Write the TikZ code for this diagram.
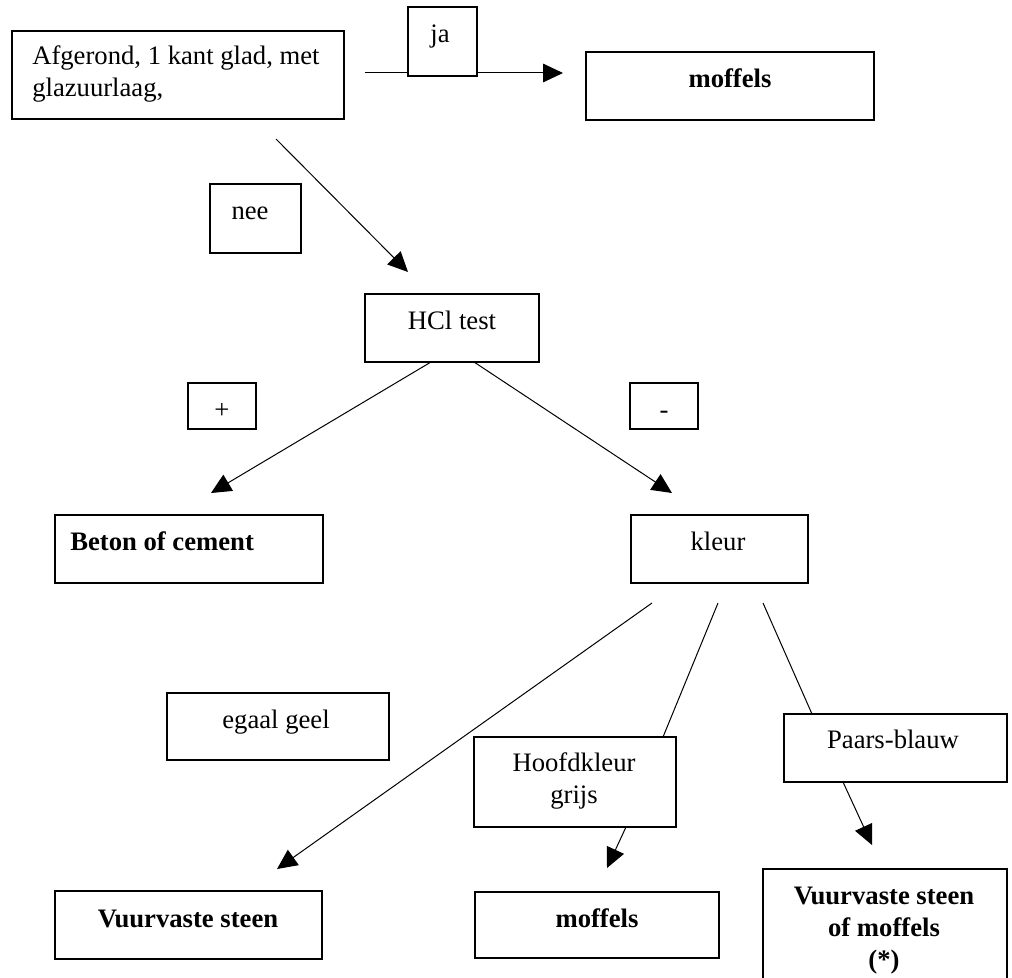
\documentclass[tikz,border=0pt]{standalone}
\usepackage{fontspec}
\setmainfont{Liberation Serif}
\usetikzlibrary{arrows.meta,fit}
\begin{document}
\begin{tikzpicture}[x=0.75pt,y=-0.75pt,
  box/.style={draw, line width=0.9pt, fill=white, inner sep=0pt},
  lbl/.style={inner sep=0pt, font=\fontsize{20}{24}\selectfont},
  res/.style={inner sep=0pt, font=\fontsize{20}{24}\selectfont\bfseries},
  conn/.style={line width=0.75pt},
  arr/.style={conn, -{Triangle[length=15pt,width=14pt]}}
]
\useasboundingbox (0,0) rectangle (1012,977);
\clip (0,0) rectangle (1012,977);
\fill[white] (0,0) rectangle (1012,977);

% connector end points
\coordinate (jaS) at (365,73);  \coordinate (jaE) at (563,73);
\coordinate (neeS) at (276,139); \coordinate (neeE) at (408,272);
\coordinate (plS) at (431,362); \coordinate (plE) at (211,493);
\coordinate (miS) at (474,362); \coordinate (miE) at (672,493);
\coordinate (geS) at (652,603); \coordinate (geE) at (277,869);
\coordinate (grS) at (718,603); \coordinate (grM) at (663,737);
\coordinate (grA) at (626,827); \coordinate (grE) at (607,868);
\coordinate (pbS) at (763,603); \coordinate (pbM) at (812,714);
\coordinate (pbA) at (843,782); \coordinate (pbE) at (872,845);

% connectors
\draw[arr] (jaS) -- (jaE);
\draw[arr] (neeS) -- (neeE);
\draw[arr] (plS) -- (plE);
\draw[arr] (miS) -- (miE);
\draw[arr] (geS) -- (geE);
\draw[conn] (grS) -- (grM);
\draw[arr] (grA) -- (grE);
\draw[conn] (pbS) -- (pbM);
\draw[arr] (pbA) -- (pbE);

% boxes
\node[box, fit={(12,31) (344,119)}] (start) {};
\node[box, fit={(408,7) (477,76)}] (ja) {};
\node[box, fit={(586,52) (874,120)}] (mofA) {};
\node[box, fit={(210,184) (301,253)}] (nee) {};
\node[box, fit={(365,294) (539,362)}] (hcl) {};
\node[box, fit={(188,383) (256,429)}] (plus) {};
\node[box, fit={(630,383) (698,429)}] (minus) {};
\node[box, fit={(55,515) (323,583)}] (beton) {};
\node[box, fit={(631,515) (808,583)}] (kleur) {};
\node[box, fit={(167,693) (389,760)}] (egaal) {};
\node[box, fit={(474,737) (676,827)}] (hoofd) {};
\node[box, fit={(784,714) (1007,782)}] (paars) {};
\node[box, fit={(55,891) (322,959)}] (vuur) {};
\node[box, fit={(475,892) (719,958)}] (mofB) {};
\node[box, fit={(763,869) (1007,995)}] (vm) {};

% texts (for multi-line texts the base anchor is the last line)
\node[lbl, anchor=base west, align=left] (startT) at (32,97) {Afgerond, 1 kant glad, met\\glazuurlaag,};
\node[lbl, anchor=base] (jaT) at (440,43) {ja};
\node[res, anchor=base] (mofAT) at (730,88) {moffels};
\node[lbl, anchor=base] (neeT) at (250,219) {nee};
\node[lbl, anchor=base] (hclT) at (452,329) {HCl test};
\node[lbl, anchor=base] (plusT) at (222,418) {+};
\node[lbl, anchor=base] (minusT) at (664,418) {-};
\node[res, anchor=base west] (betonT) at (70,550) {Beton of cement};
\node[lbl, anchor=base] (kleurT) at (718,550) {kleur};
\node[lbl, anchor=base] (egaalT) at (276,728) {egaal geel};
\node[lbl, anchor=base, align=center] (hoofdT) at (574,803) {Hoofdkleur\\grijs};
\node[lbl, anchor=base] (paarsT) at (893,748) {Paars-blauw};
\node[res, anchor=base] (vuurT) at (188,927) {Vuurvaste steen};
\node[res, anchor=base] (mofBT) at (597,927) {moffels};
\node[res, anchor=base, align=center] (vmT) at (884,968) {Vuurvaste steen\\of moffels\\(*)};
\end{tikzpicture}
\end{document}
